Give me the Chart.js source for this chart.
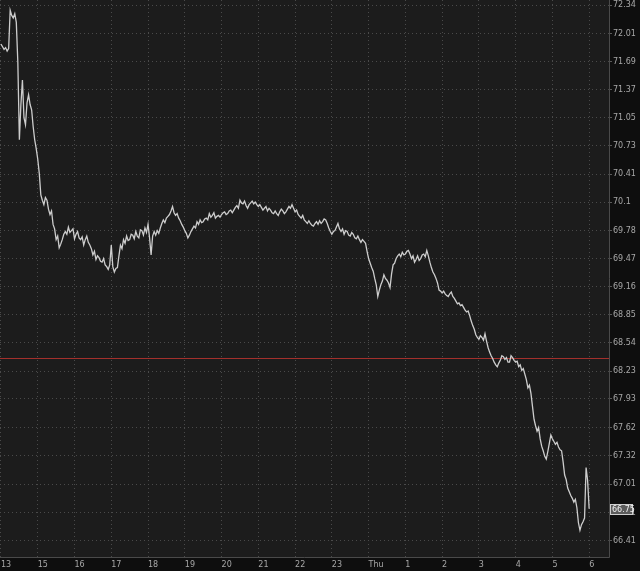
<!DOCTYPE html>
<html>
<head>
<meta charset="utf-8">
<script src="https://cdn.jsdelivr.net/npm/chart.js@4.4.1/dist/chart.umd.min.js"></script>
<style>
  html, body { margin: 0; padding: 0; background: #0e0e0e; }
  #wrap { width: 640px; height: 571px; }
</style>
</head>
<body>
<div id="wrap"><canvas id="price-chart" width="640" height="571"></canvas></div>
<script>
// Etiquetas del eje horizontal (horas; el 14 no aparece)
const hourLabels = ['13', '15', '16', '17', '18', '19', '20', '21', '22', '23', 'Thu', '1', '2', '3', '4', '5', '6'];

// Marcas del eje de precios (escala logarítmica)
const priceTicks = [72.34, 72.01, 71.69, 71.37, 71.05, 70.73, 70.41, 70.1, 69.78, 69.47,
                    69.16, 68.85, 68.54, 68.23, 67.93, 67.62, 67.32, 67.01, 66.71, 66.41];

// Precio cada 2,5 minutos (24 por hora)
const closes = [
  71.89, 71.86, 71.83, 71.85, 71.81, 71.84, 72.28, 72.22, 72.19, 72.24, 72.14, 71.68,
  70.80, 71.20, 71.48, 71.05, 70.97, 71.22, 71.31, 71.20, 71.14, 70.95, 70.80, 70.70,
  70.58, 70.42, 70.18, 70.12, 70.07, 70.15, 70.12, 70.02, 69.96, 70.00, 69.85, 69.80,
  69.68, 69.72, 69.59, 69.63, 69.68, 69.74, 69.77, 69.74, 69.82, 69.76, 69.78, 69.80,
  69.69, 69.74, 69.77, 69.70, 69.68, 69.71, 69.62, 69.68, 69.72, 69.65, 69.62, 69.58,
  69.51, 69.55, 69.46, 69.50, 69.48, 69.44, 69.43, 69.47, 69.40, 69.38, 69.35, 69.40,
  69.62, 69.38, 69.32, 69.36, 69.37, 69.50, 69.62, 69.58, 69.68, 69.64, 69.72, 69.67,
  69.68, 69.74, 69.73, 69.69, 69.77, 69.72, 69.70, 69.79, 69.78, 69.73, 69.81, 69.76,
  69.85, 69.70, 69.51, 69.72, 69.77, 69.73, 69.78, 69.75, 69.81, 69.86, 69.90, 69.87,
  69.92, 69.94, 69.96, 70.00, 70.05, 69.98, 69.95, 69.97, 69.92, 69.89, 69.85, 69.82,
  69.78, 69.75, 69.70, 69.73, 69.77, 69.80, 69.83, 69.81, 69.88, 69.85, 69.90, 69.87,
  69.88, 69.91, 69.92, 69.90, 69.97, 69.93, 69.95, 69.98, 69.92, 69.94, 69.95, 69.93,
  69.96, 69.98, 69.99, 69.96, 69.97, 70.00, 70.01, 69.98, 70.01, 70.04, 70.06, 70.03,
  70.12, 70.09, 70.08, 70.11, 70.06, 70.03, 70.07, 70.09, 70.11, 70.08, 70.10, 70.07,
  70.05, 70.07, 70.04, 70.01, 70.03, 70.05, 70.00, 70.03, 70.01, 69.98, 69.97, 70.00,
  69.97, 69.95, 69.99, 70.02, 70.00, 69.97, 69.99, 70.02, 70.05, 70.03, 70.07, 70.03,
  69.99, 70.01, 69.96, 69.94, 69.92, 69.95, 69.90, 69.88, 69.86, 69.89, 69.86, 69.84,
  69.83, 69.86, 69.88, 69.85, 69.89, 69.86, 69.88, 69.91, 69.90, 69.86, 69.81, 69.77,
  69.74, 69.77, 69.78, 69.82, 69.86, 69.80, 69.77, 69.80, 69.74, 69.78, 69.77, 69.73,
  69.72, 69.76, 69.74, 69.70, 69.69, 69.72, 69.68, 69.65, 69.68, 69.66, 69.64, 69.55,
  69.47, 69.42, 69.37, 69.33, 69.25, 69.18, 69.05, 69.12, 69.18, 69.22, 69.29, 69.25,
  69.23, 69.20, 69.15, 69.30, 69.40, 69.42, 69.47, 69.50, 69.52, 69.49, 69.54, 69.51,
  69.52, 69.55, 69.56, 69.52, 69.47, 69.50, 69.43, 69.46, 69.50, 69.45, 69.47, 69.51,
  69.52, 69.49, 69.56, 69.50, 69.43, 69.37, 69.32, 69.29, 69.25, 69.20, 69.12, 69.11,
  69.09, 69.11, 69.08, 69.06, 69.05, 69.08, 69.10, 69.05, 69.03, 69.00, 68.97, 68.98,
  68.95, 68.96, 68.93, 68.90, 68.88, 68.89, 68.84, 68.78, 68.73, 68.69, 68.63, 68.60,
  68.58, 68.62, 68.60, 68.57, 68.64, 68.56, 68.49, 68.44, 68.40, 68.37, 68.33, 68.30,
  68.28, 68.32, 68.35, 68.40, 68.39, 68.36, 68.38, 68.33, 68.33, 68.40, 68.38, 68.35,
  68.33, 68.34, 68.28, 68.30, 68.24, 68.26, 68.20, 68.14, 68.05, 68.08, 67.99, 67.85,
  67.71, 67.64, 67.58, 67.62, 67.50, 67.42, 67.37, 67.31, 67.28, 67.36, 67.45, 67.54,
  67.50, 67.47, 67.44, 67.46, 67.41, 67.38, 67.37, 67.25, 67.11, 67.06, 66.97, 66.93,
  66.89, 66.86, 66.82, 66.85, 66.76, 66.60, 66.52, 66.58, 66.61, 66.65, 67.19, 67.05,
  66.75
];

const refLine = 68.37;   // línea roja horizontal
const lastPrice = 66.75;
const STEPS_PER_HOUR = 24;

const points = closes.map((c, i) => ({ x: i / STEPS_PER_HOUR, y: c }));

// Fondos del panel, bordes y etiqueta del último precio
const panelPlugin = {
  id: 'panelBg',
  beforeDraw(chart) {
    const { ctx, chartArea: a } = chart;
    ctx.save();
    ctx.fillStyle = '#0e0e0e';
    ctx.fillRect(0, 0, chart.width, chart.height);
    ctx.fillStyle = '#1c1c1c';
    ctx.fillRect(a.left, a.top, a.right - a.left, a.bottom - a.top);
    ctx.restore();
  },
  afterDatasetsDraw(chart) {
    const { ctx, chartArea: a, scales } = chart;
    ctx.save();
    ctx.strokeStyle = '#4a4a4a';
    ctx.lineWidth = 1;
    ctx.beginPath();
    ctx.moveTo(a.right + 0.5, a.top);
    ctx.lineTo(a.right + 0.5, a.bottom + 0.5);
    ctx.lineTo(a.left, a.bottom + 0.5);
    ctx.stroke();
    const y = Math.round(scales.y.getPixelForValue(lastPrice));
    ctx.fillStyle = '#5c5c5c';
    ctx.strokeStyle = '#cfcfcf';
    ctx.fillRect(a.right + 1.5, y - 4.5, 22, 10);
    ctx.strokeRect(a.right + 1.5, y - 4.5, 22, 10);
    ctx.fillStyle = '#f0f0f0';
    ctx.font = '8px "DejaVu Sans"';
    ctx.textBaseline = 'middle';
    ctx.fillText(lastPrice.toFixed(2), a.right + 3, y + 1);
    ctx.restore();
  }
};

const ctx = document.getElementById('price-chart').getContext('2d');
new Chart(ctx, {
  type: 'line',
  data: {
    datasets: [
      {
        data: points,
        borderColor: '#cdcdcd',
        borderWidth: 1.3,
        pointRadius: 0,
        tension: 0,
        order: 1
      },
      {
        data: [{ x: -1, y: refLine }, { x: 17, y: refLine }],
        borderColor: '#a3302c',
        borderWidth: 1.2,
        pointRadius: 0,
        order: 2
      }
    ]
  },
  plugins: [panelPlugin],
  options: {
    responsive: false,
    animation: false,
    layout: { padding: 0 },
    plugins: { legend: { display: false }, tooltip: { enabled: false } },
    scales: {
      x: {
        type: 'linear',
        bounds: 'data',
        min: -0.027,
        max: 16.54,
        afterBuildTicks: (scale) => { scale.ticks = hourLabels.map((_, i) => ({ value: i })); },
        afterFit: (scale) => {
          scale.height = 14;
          scale.paddingLeft = 0;
          scale.paddingRight = 0;
        },
        border: { display: false, dash: [1, 3] },
        grid: {
          color: '#4a4a4a',
          lineWidth: 1,
          drawTicks: false
        },
        ticks: {
          autoSkip: false,
          maxRotation: 0,
          align: 'start',
          padding: 3,
          color: '#a8a8a8',
          font: { family: 'DejaVu Sans', size: 8 },
          callback: (v) => hourLabels[v] ?? ''
        }
      },
      y: {
        type: 'logarithmic',
        bounds: 'data',
        position: 'right',
        min: 66.237,
        max: 72.398,
        afterBuildTicks: (scale) => { scale.ticks = priceTicks.map(v => ({ value: v })); },
        afterFit: (scale) => {
          scale.width = 31;
          scale.paddingTop = 0;
          scale.paddingBottom = 0;
        },
        border: { display: false, dash: [1, 3] },
        grid: {
          color: '#4a4a4a',
          lineWidth: 1,
          tickLength: 3,
          tickColor: '#5a5a5a'
        },
        ticks: {
          autoSkip: false,
          padding: 1,
          color: '#a8a8a8',
          font: { family: 'DejaVu Sans', size: 8 },
          callback: (v) => {
            const i = priceTicks.indexOf(v);
            return i >= 0 ? String(priceTicks[i]) : '';
          }
        }
      }
    }
  }
});
</script>
</body>
</html>
